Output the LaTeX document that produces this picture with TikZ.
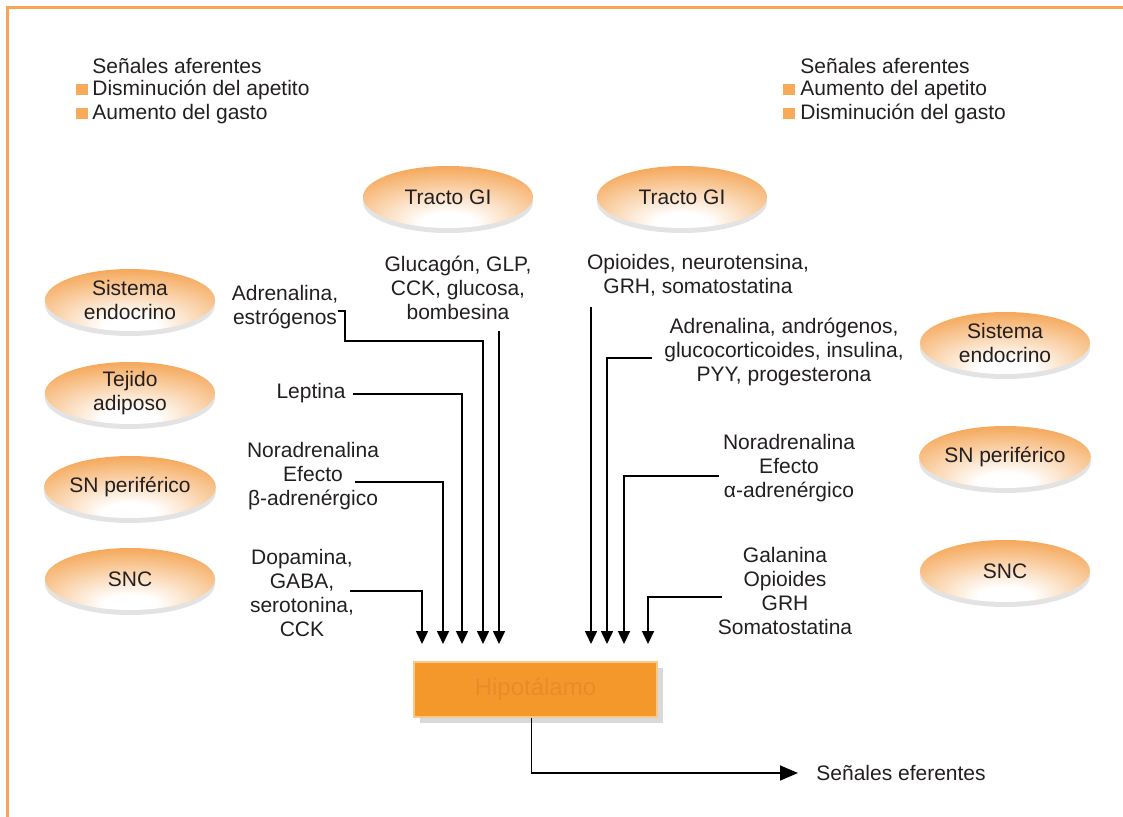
\documentclass[tikz,border=0pt]{standalone}
\usepackage{fontspec}
\setmainfont{Liberation Sans}
\usetikzlibrary{arrows.meta,positioning,shapes.geometric,shadows}
\definecolor{hypoorange}{RGB}{244,152,44}
\definecolor{hypoedge}{RGB}{251,200,140}
\definecolor{hypotext}{RGB}{232,140,42}
\definecolor{ellorange}{RGB}{243,152,60}
\definecolor{frameorange}{RGB}{248,166,78}
\definecolor{bulletorange}{RGB}{247,170,90}
\definecolor{txtgray}{RGB}{35,31,32}
\pgfdeclareradialshading{organshade}{\pgfpoint{0bp}{-24bp}}{color(0bp)=(white); color(8bp)=(white); color(40bp)=(ellorange); color(60bp)=(ellorange)}

\tikzset{
  organ/.style={ellipse, minimum width=85pt, minimum height=31pt, inner sep=0pt,
    shading=organshade, align=center, text=txtgray,
    drop shadow={shadow xshift=0pt, shadow yshift=-2.5pt, opacity=0.22}},
  lbl/.style={align=center, text=txtgray, inner sep=0pt},
  legend/.style={anchor=west, text=txtgray, inner sep=0pt},
  bulletsq/.style={fill=bulletorange, minimum width=6pt, minimum height=5.5pt, inner sep=0pt},
  arr/.style={-{Triangle[width=6pt,length=6.5pt]}, line width=0.8pt, shorten >=8.5pt},
}

\begin{document}
\begin{tikzpicture}[x=0.5pt, y=-0.5pt, font=\fontsize{10.5pt}{12pt}\selectfont]
    \useasboundingbox (0,0) rectangle (1123,817);
    % Frame
    \draw[frameorange, line width=1.5pt] (7,817) -- (7,8) -- (1123,8);
    % Legends
    \node[legend] (legLt) at (92,66) {Señales aferentes};
    \node[legend] (legL1) at (92,90) {Disminución del apetito};
    \node[legend] (legL2) at (92,114) {Aumento del gasto};
    \node[bulletsq] (bulL1) at (82,90) {};
    \node[bulletsq] (bulL2) at (82,114) {};
    \node[legend] (legRt) at (800,66) {Señales aferentes};
    \node[legend] (legR1) at (800,90) {Aumento del apetito};
    \node[legend] (legR2) at (800,114) {Disminución del gasto};
    \node[bulletsq] (bulR1) at (789,90) {};
    \node[bulletsq] (bulR2) at (789,114) {};
    % Organs
    \node[organ] (giL) at (448,197) {Tracto GI};
    \node[organ] (giR) at (682,197) {Tracto GI};
    \node[organ] (endoL) at (130,300) {Sistema\\endocrino};
    \node[organ] (adipo) at (130,393) {Tejido\\adiposo};
    \node[organ] (snpL) at (130,487) {SN periférico};
    \node[organ] (sncL) at (130,579) {SNC};
    \node[organ] (endoR) at (1005,343) {Sistema\\endocrino};
    \node[organ] (snpR) at (1005,457) {SN periférico};
    \node[organ] (sncR) at (1005,571) {SNC};
    % Hypothalamus
    \node[fill=hypoorange, draw=hypoedge, line width=1pt, minimum width=121.5pt, minimum height=27.5pt,
      drop shadow={shadow xshift=3pt, shadow yshift=-3pt, opacity=0.3},
      text=hypotext, font=\fontsize{12pt}{14pt}\selectfont] (hipo) at (535.5,689.5) {Hipotálamo};
    % Signal labels
    \node[lbl] (glucL) at (458,288) {Glucagón, GLP,\\CCK, glucosa,\\bombesina};
    \node[lbl] (adrenL) at (285,307) {Adrenalina,\\estrógenos};
    \node[lbl] (leptL) at (311,393) {Leptina};
    \node[lbl] (noraL) at (313,476) {Noradrenalina\\Efecto\\β-adrenérgico};
    \node[lbl] (dopaL) at (302,593) {Dopamina,\\GABA,\\serotonina,\\CCK};
    \node[lbl] (opioR) at (698,275.5) {Opioides, neurotensina,\\GRH, somatostatina};
    \node[lbl] (adrenR) at (784,352) {Adrenalina, andrógenos,\\glucocorticoides, insulina,\\PYY, progesterona};
    \node[lbl] (noraR) at (789,468) {Noradrenalina\\Efecto\\α-adrenérgico};
    \node[lbl] (galaR) at (785,590.5) {Galanina\\Opioides\\GRH\\Somatostatina};
    \node[lbl, anchor=west] (efer) at (816,773) {Señales eferentes};
    % Start points and corners of the signal lines
    \coordinate (sDopa) at (350,591);   \coordinate (kDopa) at (422,591);
    \coordinate (sNoraL) at (355,482);  \coordinate (kNoraL) at (443,482);
    \coordinate (sLept) at (353,394);   \coordinate (kLept) at (462,394);
    \coordinate (sAdrenL) at (338,311); \coordinate (kAdrenL) at (483,341);
    \coordinate (sGluc) at (499,331);
    \coordinate (sOpio) at (591,307);
    \coordinate (sAdrenR) at (652,358); \coordinate (kAdrenR) at (607,358);
    \coordinate (sNoraR) at (719,476);  \coordinate (kNoraR) at (624,476);
    \coordinate (sGala) at (722,597);   \coordinate (kGala) at (648,597);
    % Left inputs
    \draw[arr] (sDopa) -- (kDopa) -- (kDopa |- hipo.north);
    \draw[arr] (sNoraL) -- (kNoraL) -- (kNoraL |- hipo.north);
    \draw[arr] (sLept) -- (kLept) -- (kLept |- hipo.north);
    \draw[arr] (sAdrenL) -- ++(7,0) |- (kAdrenL) -- (kAdrenL |- hipo.north);
    \draw[arr] (sGluc) -- (sGluc |- hipo.north);
    % Right inputs
    \draw[arr] (sOpio) -- (sOpio |- hipo.north);
    \draw[arr] (sAdrenR) -- (kAdrenR) -- (kAdrenR |- hipo.north);
    \draw[arr] (sNoraR) -- (kNoraR) -- (kNoraR |- hipo.north);
    \draw[arr] (sGala) -- (kGala) -- (kGala |- hipo.north);
    % Efferent output
    \draw[-{Triangle[width=7.5pt,length=9pt]}, line width=0.8pt, shorten >=9pt]
      ([xshift=-2pt]hipo.south) |- (efer.west);
\end{tikzpicture}
\end{document}
